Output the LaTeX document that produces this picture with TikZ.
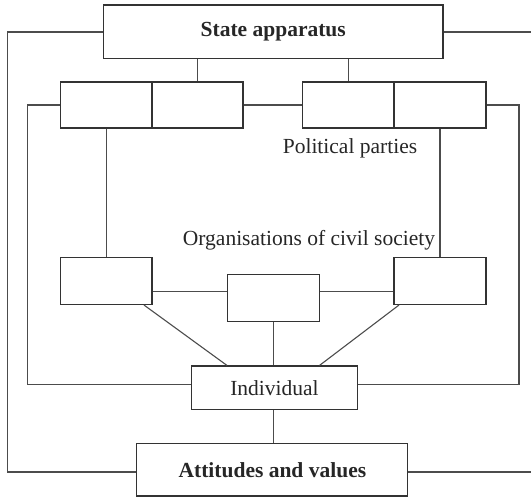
\documentclass[tikz,border=0pt]{standalone}
\usepackage{fontspec}
\setmainfont{Liberation Serif}
\begin{document}
\begin{tikzpicture}[x=1pt,y=-1pt,
  box/.style={draw=black!80,line width=1.1pt,inner sep=0pt,fill=white,
    font=\fontsize{21.5}{24}\selectfont,text=black!85},
  link/.style={draw=black!70,line width=1.1pt},
  lbl/.style={inner sep=0pt,font=\fontsize{21.5}{24}\selectfont,text=black!85}]
\useasboundingbox (0,0) rectangle (531,497);
% boxes
\node[box,minimum width=339.5pt,minimum height=53.5pt] (state) at (273.25,31.75) {\bfseries State apparatus};
\node[box,minimum width=91.5pt,minimum height=46pt] (pL1) at (106.25,105) {};
\node[box,minimum width=91pt,minimum height=46pt] (pL2) at (197.5,105) {};
\node[box,minimum width=91.5pt,minimum height=46pt] (pR1) at (348.25,105) {};
\node[box,minimum width=92pt,minimum height=46pt] (pR2) at (440,105) {};
\node[box,minimum width=91.5pt,minimum height=47pt] (cL) at (106.25,281) {};
\node[box,minimum width=92pt,minimum height=47pt] (cC) at (273.5,298) {};
\node[box,minimum width=92pt,minimum height=47pt] (cR) at (440,281) {};
\node[box,minimum width=166.5pt,minimum height=43.5pt] (ind) at (274.5,387.75) {Individual};
\node[box,minimum width=271pt,minimum height=52.5pt] (att) at (272.4,469.75) {\bfseries Attitudes and values};
% labels
\node[lbl] (pp) at (350,148) {Political parties};
\node[lbl] (ocs) at (309,240) {Organisations of civil society};
% free ends
\coordinate (eTop) at (531,32);
\coordinate (eBot) at (531,472);
\coordinate (oL) at (7.3,0);
\coordinate (iL) at (27.7,0);
\coordinate (iR) at (519,0);
\coordinate (yI) at (0,384.5);
\coordinate (yO) at (0,472);
\coordinate (yC) at (0,291.5);
% connectors
\draw[link] (state.south -| pL2) -- (pL2.north);
\draw[link] (state.south -| pR1) -- (pR1.north);
\draw[link] (pL2.east) -- (pR1.west);
\draw[link] (pL1.south) -- (cL.north);
\draw[link] (pR2.south) -- (cR.north);
\draw[link] (cL.east |- yC) -- (cC.west |- yC);
\draw[link] (cC.east |- yC) -- (cR.west |- yC);
\draw[link] (cC.south) -- (cC.south |- ind.north);
\draw[link] ([xshift=37.75pt]cL.south) -- ([xshift=-47.5pt]ind.north);
\draw[link] ([xshift=-41pt]cR.south) -- ([xshift=45pt]ind.north);
\draw[link] (ind.south -| cC) -- (att.north -| cC);
% inner loop
\draw[link] (pL1.west) -- (iL |- pL1.west) -- (iL |- yI) -- (ind.west |- yI);
\draw[link] (pR2.east) -- (iR |- pR2.east) -- (iR |- yI) -- (ind.east |- yI);
% outer loop
\draw[link] (state.west |- eTop) -- (oL |- eTop) -- (oL |- yO) -- (att.west |- yO);
\draw[link] (state.east |- eTop) -- (eTop);
\draw[link] (att.east |- eBot) -- (eBot);
\end{tikzpicture}
\end{document}
